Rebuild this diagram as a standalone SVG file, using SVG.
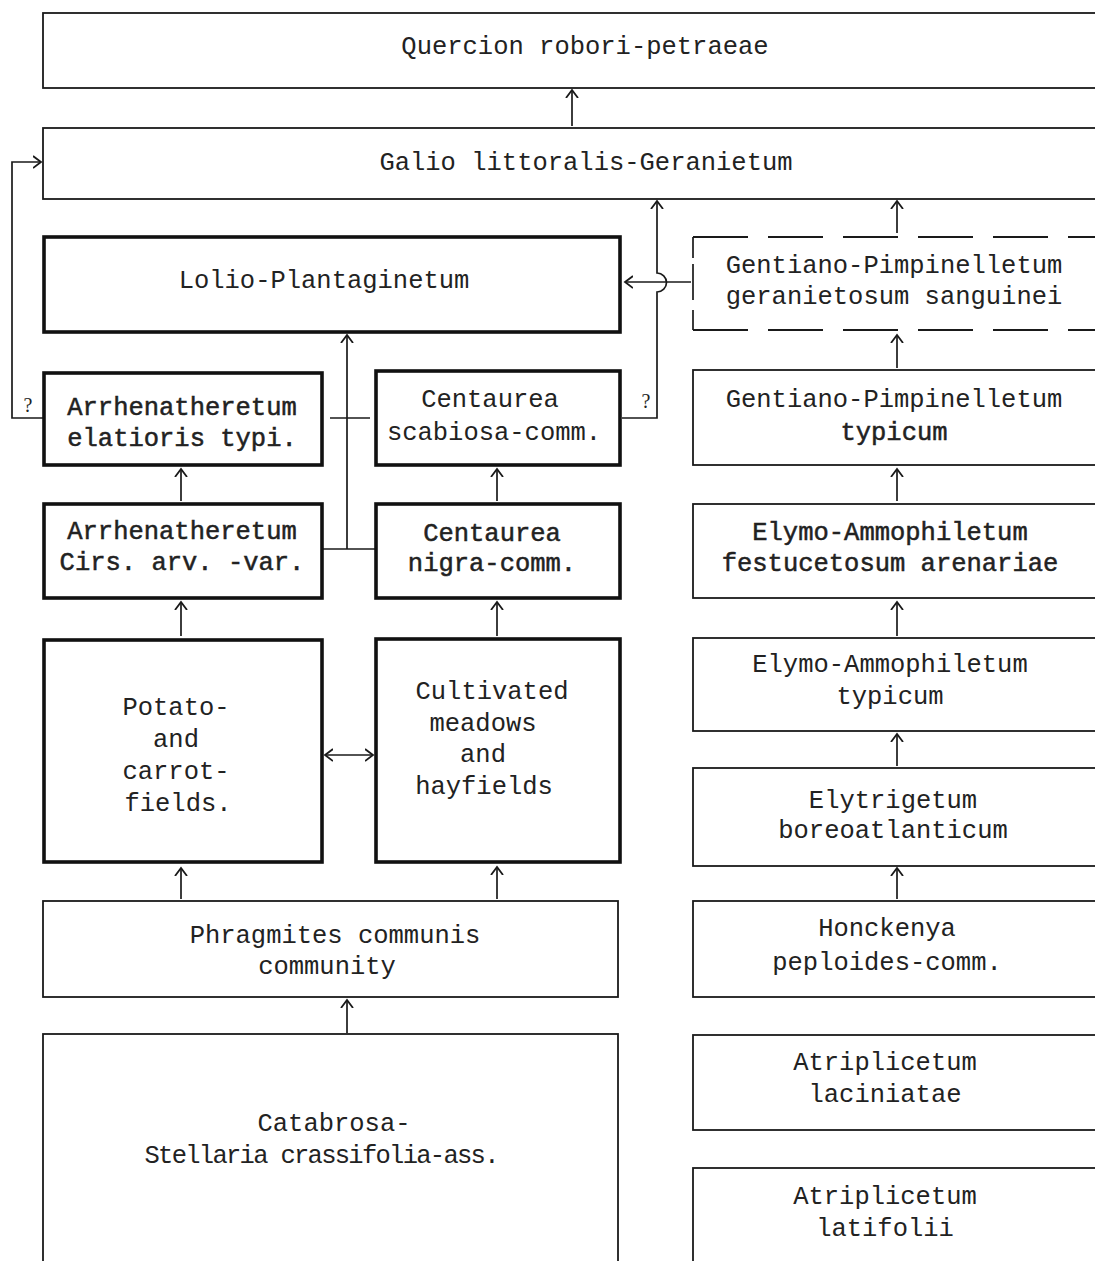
<svg xmlns="http://www.w3.org/2000/svg" width="1095" height="1261" viewBox="0 0 1095 1261">
<defs>
<style>
.box{fill:#fff;stroke:#1a1a1a;stroke-width:1.8}
.thick{fill:#fff;stroke:#111;stroke-width:3.6}
.dash{fill:none;stroke:#1a1a1a;stroke-width:1.8;stroke-dasharray:55,20}
.t{font-family:"Liberation Mono","Courier New",monospace;font-size:25.5px;fill:#222;text-anchor:middle}
.b{stroke:#222;stroke-width:0.5}
.c{fill:none;stroke:#1a1a1a;stroke-width:1.7}
.q{font-family:"Liberation Serif",serif;font-size:20px;fill:#222;text-anchor:middle}
</style>
<marker id="ah" viewBox="-8 -8 16 16" markerWidth="16" markerHeight="16" markerUnits="userSpaceOnUse" orient="auto" refX="0" refY="0">
<path d="M-8,-6 L0,0 L-8,6" fill="none" stroke="#1a1a1a" stroke-width="1.8"/>
</marker>
<marker id="as" viewBox="-8 -8 16 16" markerWidth="16" markerHeight="16" markerUnits="userSpaceOnUse" orient="auto-start-reverse" refX="0" refY="0">
<path d="M-8,-6 L0,0 L-8,6" fill="none" stroke="#1a1a1a" stroke-width="1.8"/>
</marker>
</defs>
<rect width="1095" height="1261" fill="#fff"/>

<g id="connectors">
<line class="c" x1="572" y1="126" x2="572" y2="90" marker-end="url(#ah)"/>
<path class="c" d="M43,418 H12 V162 H41" marker-end="url(#ah)"/>
<path class="c" d="M622,418 H657 V292 A9.5,9.5 0 0 0 657,273 V201" marker-end="url(#ah)"/>
<line class="c" x1="691" y1="282" x2="625" y2="282" marker-end="url(#ah)"/>
<line class="c" x1="897" y1="233" x2="897" y2="201" marker-end="url(#ah)"/>
<line class="c" x1="347" y1="549" x2="347" y2="335" marker-end="url(#ah)"/>
<line class="c" x1="330" y1="418" x2="370" y2="418"/>
<line class="c" x1="323" y1="549" x2="375" y2="549"/>
<line class="c" x1="181" y1="501" x2="181" y2="469" marker-end="url(#ah)"/>
<line class="c" x1="497" y1="501" x2="497" y2="469" marker-end="url(#ah)"/>
<line class="c" x1="897" y1="368" x2="897" y2="335" marker-end="url(#ah)"/>
<line class="c" x1="181" y1="636" x2="181" y2="602" marker-end="url(#ah)"/>
<line class="c" x1="497" y1="636" x2="497" y2="602" marker-end="url(#ah)"/>
<line class="c" x1="897" y1="501" x2="897" y2="469" marker-end="url(#ah)"/>
<line class="c" x1="897" y1="636" x2="897" y2="602" marker-end="url(#ah)"/>
<line class="c" x1="325" y1="755" x2="373" y2="755" marker-start="url(#as)" marker-end="url(#as)"/>
<line class="c" x1="897" y1="766" x2="897" y2="734" marker-end="url(#ah)"/>
<line class="c" x1="181" y1="899" x2="181" y2="868" marker-end="url(#ah)"/>
<line class="c" x1="497" y1="899" x2="497" y2="867" marker-end="url(#ah)"/>
<line class="c" x1="897" y1="899" x2="897" y2="868" marker-end="url(#ah)"/>
<line class="c" x1="347" y1="1033" x2="347" y2="1000" marker-end="url(#ah)"/>
<text class="q" x="28" y="412">?</text>
<text class="q" x="646" y="408">?</text>
</g>

<g id="quercion">
<rect class="box" x="43" y="13" width="1070" height="75"/>
<text class="t" x="585" y="54">Quercion robori-petraeae</text>
</g>
<g id="galio">
<rect class="box" x="43" y="128" width="1070" height="71"/>
<text class="t" x="586" y="170">Galio littoralis-Geranietum</text>
</g>
<g id="lolio">
<rect class="thick" x="44" y="237" width="576" height="95"/>
<text class="t" x="324" y="288">Lolio-Plantaginetum</text>
</g>
<g id="gentiano-geranietosum">
<path class="dash" d="M693,237 H1100"/>
<path class="dash" d="M693,330 H1100"/>
<path class="c" d="M693,237 V258 M693,264 V300 M693,310 V330"/>
<text class="t" x="894" y="273">Gentiano-Pimpinelletum</text>
<text class="t" x="894" y="304">geranietosum sanguinei</text>
</g>
<g id="arrh-typi">
<rect class="thick" x="44" y="373" width="278" height="92"/>
<text class="t b" x="182" y="415">Arrhenatheretum</text>
<text class="t b" x="182" y="446">elatioris typi.</text>
</g>
<g id="centaurea-scabiosa">
<rect class="thick" x="376" y="371" width="244" height="94"/>
<text class="t" x="490" y="407">Centaurea</text>
<text class="t" x="494" y="440">scabiosa-comm.</text>
</g>
<g id="gentiano-typicum">
<rect class="box" x="693" y="370" width="420" height="95"/>
<text class="t" x="894" y="407">Gentiano-Pimpinelletum</text>
<text class="t b" x="894" y="440">typicum</text>
</g>
<g id="arrh-cirs">
<rect class="thick" x="44" y="504" width="278" height="94"/>
<text class="t b" x="182" y="539">Arrhenatheretum</text>
<text class="t b" x="182" y="570">Cirs. arv. -var.</text>
</g>
<g id="centaurea-nigra">
<rect class="thick" x="376" y="504" width="244" height="94"/>
<text class="t b" x="492" y="541">Centaurea</text>
<text class="t b" x="492" y="571">nigra-comm.</text>
</g>
<g id="elymo-festucetosum">
<rect class="box" x="693" y="504" width="420" height="94"/>
<text class="t b" x="890" y="540">Elymo-Ammophiletum</text>
<text class="t b" x="890" y="571">festucetosum arenariae</text>
</g>
<g id="potato">
<rect class="thick" x="44" y="640" width="278" height="222"/>
<text class="t" x="176" y="715">Potato-</text>
<text class="t" x="176" y="747">and</text>
<text class="t" x="176" y="779">carrot-</text>
<text class="t" x="178" y="811">fields.</text>
</g>
<g id="cultivated">
<rect class="thick" x="376" y="639" width="244" height="223"/>
<text class="t" x="492" y="699">Cultivated</text>
<text class="t" x="483" y="731">meadows</text>
<text class="t" x="483" y="762">and</text>
<text class="t" x="484" y="794">hayfields</text>
</g>
<g id="elymo-typicum">
<rect class="box" x="693" y="638" width="420" height="93"/>
<text class="t" x="890" y="672">Elymo-Ammophiletum</text>
<text class="t" x="890" y="704">typicum</text>
</g>
<g id="elytrigetum">
<rect class="box" x="693" y="768" width="420" height="98"/>
<text class="t" x="893" y="808">Elytrigetum</text>
<text class="t" x="893" y="838">boreoatlanticum</text>
</g>
<g id="phragmites">
<rect class="box" x="43" y="901" width="575" height="96"/>
<text class="t" x="335" y="943">Phragmites communis</text>
<text class="t" x="327" y="974">community</text>
</g>
<g id="honckenya">
<rect class="box" x="693" y="901" width="420" height="96"/>
<text class="t" x="887" y="936">Honckenya</text>
<text class="t" x="887" y="970">peploides-comm.</text>
</g>
<g id="catabrosa">
<rect class="box" x="43" y="1034" width="575" height="240"/>
<text class="t" x="334" y="1131">Catabrosa-</text>
<text class="t" x="322" y="1163" textLength="355" lengthAdjust="spacing">Stellaria crassifolia-ass.</text>
</g>
<g id="atriplicetum-laciniatae">
<rect class="box" x="693" y="1035" width="420" height="95"/>
<text class="t" x="885" y="1070">Atriplicetum</text>
<text class="t" x="885" y="1102">laciniatae</text>
</g>
<g id="atriplicetum-latifolii">
<rect class="box" x="693" y="1168" width="420" height="110"/>
<text class="t" x="885" y="1204">Atriplicetum</text>
<text class="t" x="885" y="1236">latifolii</text>
</g>
</svg>
